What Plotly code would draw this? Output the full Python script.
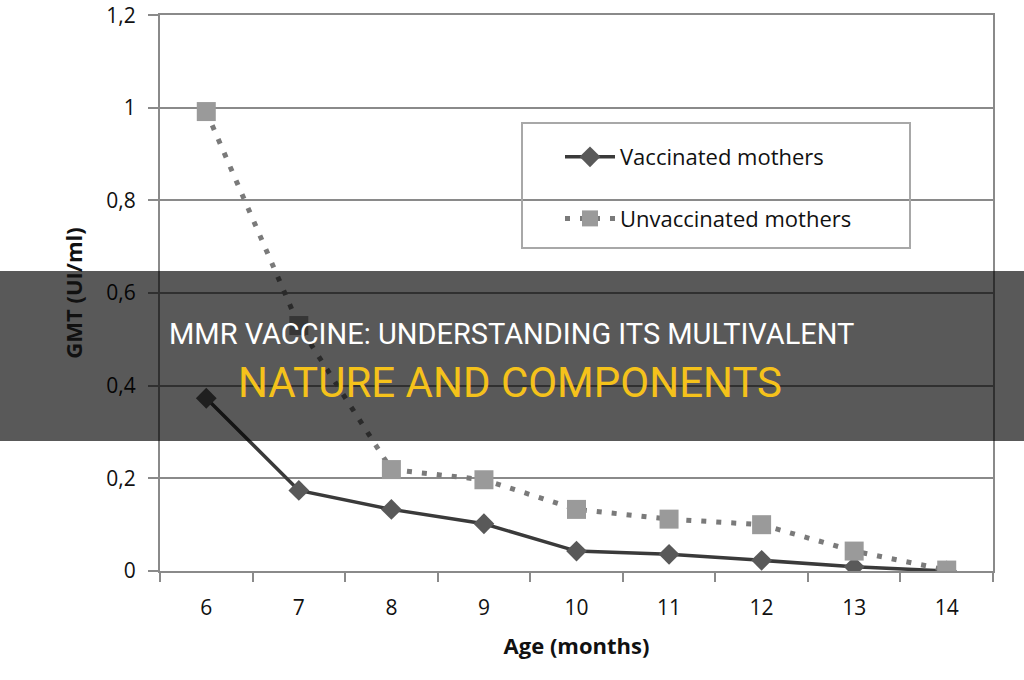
import plotly.graph_objects as go

ages = ["6", "7", "8", "9", "10", "11", "12", "13", "14"]
vaccinated = [0.373, 0.174, 0.133, 0.102, 0.043, 0.036, 0.023, 0.009, 0.0]
unvaccinated = [0.992, 0.53, 0.219, 0.197, 0.133, 0.112, 0.10, 0.043, 0.002]
y_ticks = [0, 0.2, 0.4, 0.6, 0.8, 1.0, 1.2]
y_labels = ["0", "0,2", "0,4", "0,6", "0,8", "1", "1,2"]
title_line1 = "MMR VACCINE: UNDERSTANDING ITS MULTIVALENT"
title_line2 = "NATURE AND COMPONENTS"

W, H = 1024, 680
L, R, T, B = 160, 31, 15, 109
pw, ph = W - L - R, H - T - B

def px_x(x):
    return (x - L) / pw

def px_y(y):
    return (H - B - y) / ph

fig = go.Figure()
fig.add_trace(go.Scatter(
    x=ages, y=vaccinated, name="Vaccinated mothers", legendgroup="a",
    mode="lines+markers",
    line=dict(color="#3a3a3a", width=3.5),
    marker=dict(symbol="diamond", size=16, color="#595959"),
))
fig.add_trace(go.Scatter(
    x=ages, y=unvaccinated, name="Unvaccinated mothers", legendgroup="b",
    mode="lines+markers",
    line=dict(color="#7a7a7a", width=5, dash="5px,10px"),
    marker=dict(symbol="square", size=19, color="#9a9a9a"),
))

fig.update_layout(
    width=W, height=H,
    margin=dict(l=L, r=R, t=T, b=B, autoexpand=False),
    paper_bgcolor="white", plot_bgcolor="white",
    font=dict(family="Open Sans, Lato, sans-serif", size=21, color="#111111"),
    showlegend=True,
    legend=dict(
        x=px_x(560), y=px_y(136), xanchor="left", yanchor="top",
        bgcolor="rgba(0,0,0,0)", borderwidth=0,
        font=dict(size=22, color="#111111"),
        itemwidth=50, tracegroupgap=30, traceorder="grouped",
    ),
    xaxis=dict(
        type="category", range=[-0.5, 8.5], tickson="boundaries",
        ticks="outside", ticklen=9, tickcolor="#8a8a8a", tickwidth=2,
        showline=True, linecolor="#8a8a8a", linewidth=2, mirror=True,
        showgrid=False, ticklabelstandoff=17, tickfont=dict(size=21),
        automargin=False,
        title=dict(text="<b>Age (months)</b>", font=dict(size=22), standoff=18),
    ),
    yaxis=dict(
        range=[0, 1.2005], tickvals=y_ticks, ticktext=y_labels,
        ticks="outside", ticklen=10, tickcolor="#8a8a8a", tickwidth=2,
        showline=True, linecolor="#8a8a8a", linewidth=2, mirror=True,
        showgrid=True, gridcolor="#8a8a8a", gridwidth=2,
        zeroline=False, ticklabelstandoff=8, ticklabeloverflow="allow",
        tickfont=dict(size=21), automargin=False,
        title=dict(text="<b>GMT (UI/ml)</b>", font=dict(size=22), standoff=18),
    ),
    shapes=[
        dict(type="rect", xref="paper", yref="paper",
             x0=px_x(522), x1=px_x(910), y0=px_y(248), y1=px_y(123),
             line=dict(color="#a8a8a8", width=2), fillcolor="rgba(0,0,0,0)",
             layer="above"),
        dict(type="rect", xref="paper", yref="paper",
             x0=-0.5, x1=1.5, y0=px_y(441), y1=px_y(271),
             line=dict(width=0), fillcolor="rgba(0,0,0,0.65)", layer="above"),
    ],
    annotations=[
        dict(text=title_line1, xref="paper", yref="paper",
             x=px_x(511), y=px_y(334), xanchor="center", yanchor="middle",
             showarrow=False,
             font=dict(family="Roboto, sans-serif", size=29, color="white")),
        dict(text=title_line2, xref="paper", yref="paper",
             x=px_x(510), y=px_y(382), xanchor="center", yanchor="middle",
             showarrow=False,
             font=dict(family="Roboto, sans-serif", size=42, color="#f5c21b")),
    ],
)

fig.write_html("out.html")
